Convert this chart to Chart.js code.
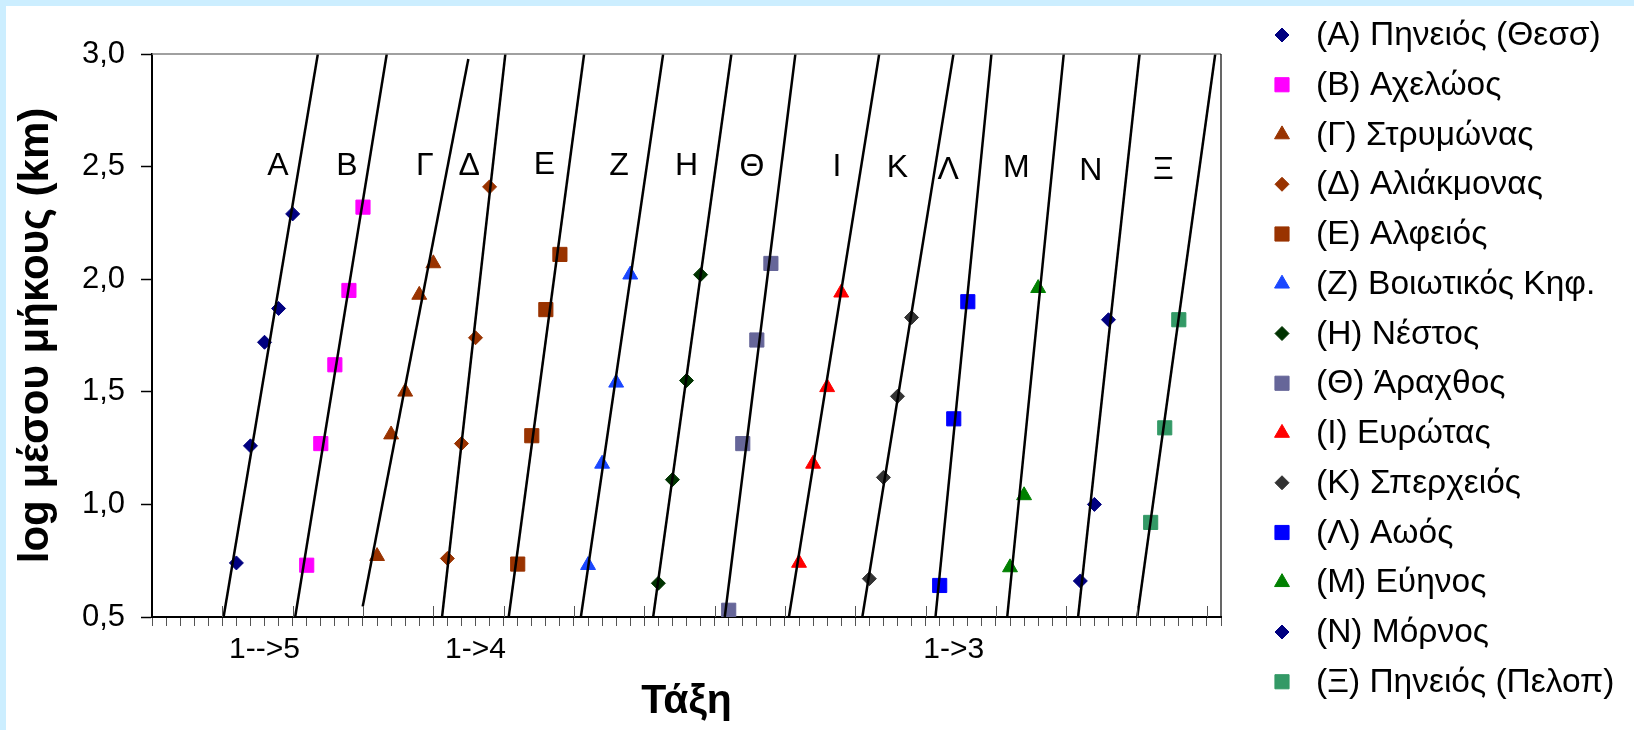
<!DOCTYPE html>
<html lang="el">
<head>
    <meta charset="UTF-8">
    <title>Τάξη - log μέσου μήκους</title>
    <script src="https://cdn.jsdelivr.net/npm/chart.js"></script>
    <style>
        html, body {
            margin: 0;
            padding: 0;
            background-color: #ffffff;
        }
        #wrap {
            width: 1634px;
            height: 730px;
        }
    </style>
</head>
<body>
    <div id="wrap"><canvas id="chart" width="1634" height="730"></canvas></div>

    <script>
        // series names (legend) and the letter printed above each group
        const seriesNames = [
            '(Α) Πηνειός (Θεσσ)', '(Β) Αχελώος', '(Γ) Στρυμώνας', '(Δ) Αλιάκμονας',
            '(Ε) Αλφειός', '(Ζ) Βοιωτικός Κηφ.', '(Η) Νέστος', '(Θ) Άραχθος',
            '(Ι) Ευρώτας', '(Κ) Σπερχειός', '(Λ) Αωός', '(Μ) Εύηνος',
            '(Ν) Μόρνος', '(Ξ) Πηνειός (Πελοπ)'
        ];
        const groupLetters = ['Α', 'Β', 'Γ', 'Δ', 'Ε', 'Ζ', 'Η', 'Θ', 'Ι', 'Κ', 'Λ', 'Μ', 'Ν', 'Ξ'];

        // x position of every point (order, shifted per river)
        const orderX = [
            [6, 7, 8, 9, 10],
            [11, 12, 13, 14, 15],
            [16, 17, 18, 19, 20],
            [21, 22, 23, 24],
            [26, 27, 28, 29],
            [31, 32, 33, 34],
            [36, 37, 38, 39],
            [41, 42, 43, 44],
            [46, 47, 48, 49],
            [51, 52, 53, 54],
            [56, 57, 58],
            [61, 62, 63],
            [66, 67, 68],
            [71, 72, 73]
        ];
        // log of mean stream length (km)
        const logLength = [
            [0.74, 1.26, 1.72, 1.87, 2.29],
            [0.73, 1.27, 1.62, 1.95, 2.32],
            [0.77, 1.31, 1.50, 1.93, 2.07],
            [0.76, 1.27, 1.74, 2.41],
            [0.735, 1.305, 1.865, 2.11],
            [0.73, 1.18, 1.54, 2.02],
            [0.65, 1.11, 1.55, 2.02],
            [0.53, 1.27, 1.73, 2.07],
            [0.74, 1.18, 1.52, 1.94],
            [0.67, 1.12, 1.48, 1.83],
            [0.64, 1.38, 1.90],
            [0.72, 1.04, 1.96],
            [0.66, 1.00, 1.82],
            [0.92, 1.34, 1.82]
        ];

        // trend line end points (start / end)
        const trendX0 = [5.09, 10.18, 14.98, 20.62, 25.36, 30.49, 35.63, 40.72, 45.28, 50.50, 55.70, 60.80, 65.84, 70.05];
        const trendY0 = [0.5, 0.5, 0.547, 0.5, 0.5, 0.5, 0.5, 0.5, 0.5, 0.5, 0.5, 0.5, 0.5, 0.5];
        const trendX1 = [11.79, 16.69, 22.49, 25.12, 30.72, 36.34, 41.19, 45.74, 51.70, 56.98, 59.68, 64.82, 70.21, 75.59];
        const trendY1 = [3.0, 3.0, 2.978, 3.0, 3.0, 3.0, 3.0, 3.0, 3.0, 3.0, 3.0, 3.0, 3.0, 3.0];

        // where the group letters sit (data units)
        const letterX = [8.95, 13.85, 19.4, 22.55, 27.9, 33.2, 38.0, 42.65, 48.7, 53.0, 56.6, 61.45, 66.74, 71.9];
        const letterY = [2.515, 2.515, 2.515, 2.515, 2.52, 2.515, 2.515, 2.51, 2.51, 2.505, 2.495, 2.505, 2.49, 2.495];

        // x axis text labels
        const xLabelAt = [8, 23, 57];
        const xLabelText = ['1-->5', '1->4', '1->3'];

        // marker styles
        const markerColors = ['#000080', '#ff00ff', '#993300', '#993300', '#993300', '#1a47ff', '#003300',
                              '#666699', '#ff0000', '#333333', '#0000ff', '#008000', '#000080', '#339966'];
        const markerShapes = ['rectRot', 'rect', 'triangle', 'rectRot', 'rect', 'triangle', 'rectRot',
                              'rect', 'triangle', 'rectRot', 'rect', 'triangle', 'rectRot', 'rect'];
        const shapeRadius = { rectRot: 7, rect: 10, triangle: 8.6 };

        const FONT = '"Liberation Sans", Arial, sans-serif';

        const datasets = [];
        seriesNames.forEach((name, i) => {
            datasets.push({
                label: name,
                data: orderX[i].map((x, j) => ({ x: x, y: logLength[i][j] })),
                showLine: false,
                pointStyle: markerShapes[i],
                pointRadius: shapeRadius[markerShapes[i]],
                pointHoverRadius: shapeRadius[markerShapes[i]],
                backgroundColor: markerColors[i],
                borderColor: markerColors[i],
                borderWidth: 1,
                order: 1
            });
        });
        seriesNames.forEach((name, i) => {
            datasets.push({
                label: 'trend ' + name,
                data: [{ x: trendX0[i], y: trendY0[i] }, { x: trendX1[i], y: trendY1[i] }],
                showLine: true,
                pointRadius: 0,
                borderColor: '#000000',
                borderWidth: 2.5,
                order: 0
            });
        });

        // light blue frame on top/left edges + white background
        const framePlugin = {
            id: 'frame',
            beforeDraw(chart) {
                const ctx = chart.ctx;
                ctx.save();
                ctx.fillStyle = '#ffffff';
                ctx.fillRect(0, 0, chart.width, chart.height);
                ctx.fillStyle = '#cceeff';
                ctx.fillRect(0, 0, chart.width, 6);
                ctx.fillRect(0, 0, 6, chart.height);
                ctx.restore();
            }
        };

        const extrasPlugin = {
            id: 'extras',
            afterDraw(chart) {
                const ctx = chart.ctx;
                const area = chart.chartArea;
                const xs = chart.scales.x;
                const ys = chart.scales.y;
                ctx.save();

                // plot area border (top grey, right black)
                ctx.lineWidth = 1.5;
                ctx.strokeStyle = '#808080';
                ctx.beginPath();
                ctx.moveTo(area.left, area.top);
                ctx.lineTo(area.right, area.top);
                ctx.stroke();
                ctx.lineWidth = 1.2;
                ctx.strokeStyle = '#000000';
                ctx.beginPath();
                ctx.moveTo(area.right, area.top);
                ctx.lineTo(area.right, area.bottom);
                ctx.stroke();

                // major tick marks cross the axis
                ctx.strokeStyle = '#555555';
                ctx.lineWidth = 1;
                for (let v = 5; v <= xs.max; v += 5) {
                    const px = Math.round(xs.getPixelForValue(v)) + 0.5;
                    ctx.beginPath();
                    ctx.moveTo(px, area.bottom - 11);
                    ctx.lineTo(px, area.bottom);
                    ctx.stroke();
                }

                // group letters
                ctx.fillStyle = '#000000';
                ctx.font = '32px ' + FONT;
                ctx.textAlign = 'center';
                ctx.textBaseline = 'alphabetic';
                groupLetters.forEach((t, i) => {
                    ctx.fillText(t, xs.getPixelForValue(letterX[i]), ys.getPixelForValue(letterY[i]) + 11.5);
                });

                // legend
                const lx = 1282, tx = 1316, ly0 = 35, lstep = 49.75;
                seriesNames.forEach((name, i) => {
                    const y = ly0 + i * lstep;
                    ctx.fillStyle = markerColors[i];
                    ctx.strokeStyle = markerColors[i];
                    ctx.lineWidth = 1;
                    Chart.helpers.drawPoint(ctx, {
                        pointStyle: markerShapes[i],
                        radius: shapeRadius[markerShapes[i]],
                        rotation: 0,
                        borderWidth: 1
                    }, lx, y);
                    ctx.fillStyle = '#000000';
                    ctx.font = '33.5px ' + FONT;
                    ctx.textAlign = 'left';
                    ctx.textBaseline = 'middle';
                    ctx.fillText(name, tx, y + 1);
                });

                ctx.restore();
            }
        };

        new Chart(document.getElementById('chart'), {
            type: 'scatter',
            data: { datasets: datasets },
            options: {
                responsive: false,
                animation: false,
                events: [],
                layout: { padding: { top: 54, right: 413, bottom: 0, left: 0 } },
                plugins: {
                    legend: { display: false },
                    tooltip: { enabled: false }
                },
                scales: {
                    x: {
                        type: 'linear',
                        min: 0,
                        max: 76,
                        afterFit: (scale) => { scale.height = 113; },
                        ticks: {
                            stepSize: 1,
                            autoSkip: false,
                            maxRotation: 0,
                            minRotation: 0,
                            padding: 6,
                            color: '#000000',
                            font: { family: FONT, size: 30 },
                            callback: (value) => {
                                const k = xLabelAt.indexOf(value);
                                return k >= 0 ? xLabelText[k] : '';
                            }
                        },
                        grid: {
                            drawOnChartArea: false,
                            drawTicks: true,
                            tickLength: 9,
                            tickColor: '#555555',
                            tickWidth: 1
                        },
                        border: { color: '#000000', width: 2 },
                        title: {
                            display: true,
                            text: 'Τάξη',
                            color: '#000000',
                            font: { family: FONT, size: 41, weight: 'bold' },
                            padding: { top: 0, bottom: 4 }
                        }
                    },
                    y: {
                        min: 0.5,
                        max: 3.0,
                        afterFit: (scale) => { scale.width = 152; },
                        ticks: {
                            stepSize: 0.5,
                            padding: 16,
                            color: '#000000',
                            font: { family: FONT, size: 31 },
                            callback: (value) => value.toFixed(1).replace('.', ',')
                        },
                        grid: {
                            drawOnChartArea: false,
                            drawTicks: true,
                            tickLength: 11,
                            tickColor: '#000000',
                            tickWidth: 1.5
                        },
                        border: { color: '#000000', width: 2 },
                        title: {
                            display: true,
                            text: 'log μέσου μήκους (km)',
                            color: '#000000',
                            font: { family: FONT, size: 42, weight: 'bold' },
                            padding: { top: 11, bottom: 0 }
                        }
                    }
                }
            },
            plugins: [framePlugin, extrasPlugin]
        });
    </script>
</body>
</html>
